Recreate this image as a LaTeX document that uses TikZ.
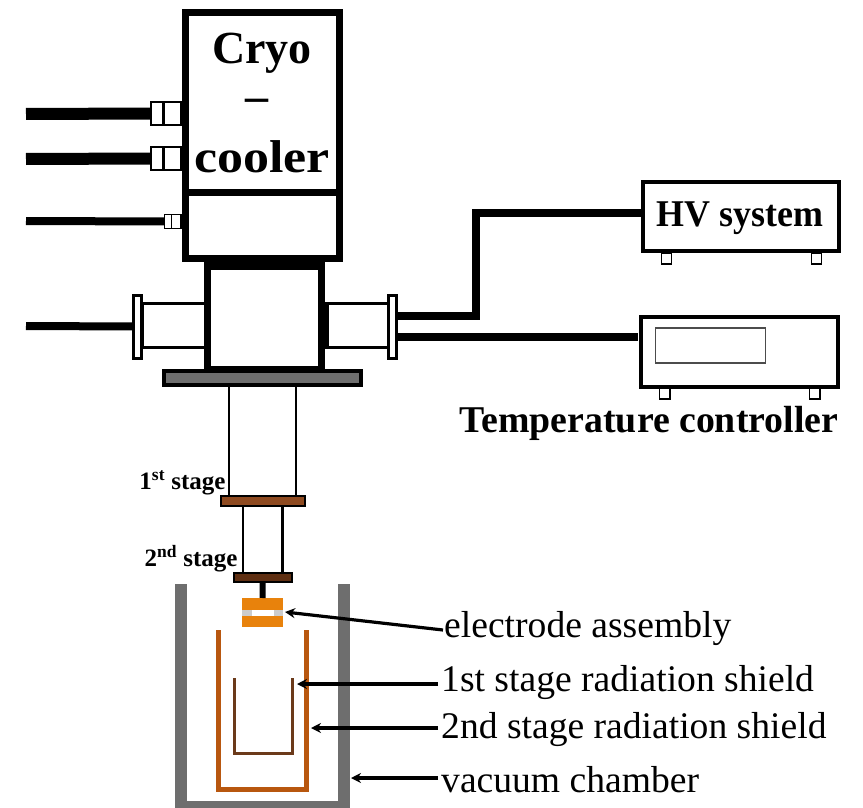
\documentclass[tikz,border=0pt]{standalone}
\usepackage{fontspec}
\setmainfont{Liberation Serif}
\usetikzlibrary{arrows.meta,calc}
\definecolor{steelgray}{HTML}{6E6E6E}
\definecolor{platedark}{HTML}{5F2F12}
\definecolor{platemid}{HTML}{8E4A20}
\definecolor{shieldtwo}{HTML}{B8570F}
\definecolor{shieldone}{HTML}{6B3A1A}
\definecolor{elec}{HTML}{E8820C}
\newcommand{\pxbox}[6]{%
  \pgfmathsetmacro\pxW{#4-#2}\pgfmathsetmacro\pxH{#5-#3}%
  \pgfmathsetmacro\pxX{(#4+#2)/2}\pgfmathsetmacro\pxY{(#5+#3)/2}%
  \node[pxnode,minimum width=\pxW pt,minimum height=\pxH pt,#6] (#1) at (\pxX,\pxY) {};}
\tikzset{
  pxnode/.style={rectangle,inner sep=0pt,outer sep=0pt,draw=black,fill=white},
  cable/.style={draw=black,line cap=butt,line join=miter},
  callout/.style={draw=black,line width=3.2pt,-{Stealth[length=10pt,width=10pt]}},
  biglabel/.style={inner sep=0pt,font=\bfseries\fontsize{46}{46}\selectfont},
  midlabel/.style={inner sep=0pt,font=\bfseries\fontsize{37.8}{37.8}\selectfont},
  stagelabel/.style={inner sep=0pt,font=\bfseries\fontsize{25}{25}\selectfont},
  calllabel/.style={inner sep=0pt,anchor=west,font=\fontsize{37.6}{37.6}\selectfont},
}
\begin{document}
\begin{tikzpicture}[x=1pt,y=-1pt]
\useasboundingbox (0,0) rectangle (863,808);
% free ends
\coordinate (endA) at (26,114);
\coordinate (endB) at (26,159);
\coordinate (endC) at (26,221);
\coordinate (endD) at (26,326);
\coordinate (hvBend) at (476,316);
% vacuum chamber
\begin{scope}
\clip (0,0) rectangle (863,808);
\draw[steelgray,line width=12pt,line join=miter] (181,584) -- (181,807) -- (344,807) -- (344,584);
\end{scope}
% cryocooler
\pxbox{cryo}{185.5}{12.5}{339.5}{258.5}{line width=7pt}
\coordinate (divL) at (cryo.west |- 0,192);
\coordinate (divR) at (cryo.east |- 0,192);
\draw[line width=7pt] (divL) -- (divR);
% lower housing
\draw[line width=3pt,fill=white] (142,303) rectangle (206,347);
\draw[line width=3pt,fill=white] (324,303) rectangle (388,347);
\pxbox{housing}{207.5}{265}{321.5}{369}{line width=7pt}
\draw[line width=6pt] (housing.north west) ++(0,1.5) -- ($(housing.north east)+(0,1.5)$);
\draw[line width=5pt] (326.5,303) -- (326.5,347);
% flanges
\pxbox{flangeL}{133.5}{295}{141.5}{358}{line width=3pt}
\pxbox{flangeR}{388.5}{295}{396.5}{358}{line width=3pt}
% gas connectors
\pxbox{connA}{151}{102}{181}{125}{line width=2.5pt}
\pxbox{connB}{151}{147}{181}{170}{line width=2.5pt}
\pxbox{connC}{164.5}{214.5}{181}{228.5}{line width=1.5pt}
\draw[line width=3pt] (163,102) -- (163,125);
\draw[line width=3pt] (163,147) -- (163,170);
\draw[line width=1.5pt] (171.5,214.5) -- (171.5,228.5);
\draw[cable,line width=12pt] (endA) -- (connA.west);
\draw[cable,line width=12pt] (endB) -- (connB.west);
\draw[cable,line width=8pt] (endC) -- (connC.west);
\draw[cable,line width=8pt] (endD) -- (flangeL.west);
% plate
\pxbox{plate}{164}{371}{361}{385}{line width=4pt,fill=steelgray}
% cold head
\coordinate (tubeA) at (229,386);
\coordinate (tubeB) at (296,386);
\pxbox{stageOne}{221}{496}{304.5}{505.5}{line width=2pt,fill=platemid}
\pxbox{stageTwo}{234}{572.5}{291.5}{581.5}{line width=2pt,fill=platedark}
\draw[line width=2pt] (tubeA) -- (tubeA |- stageOne.north);
\draw[line width=2pt] (tubeB) -- (tubeB |- stageOne.north);
\draw[line width=2.5pt] (243,505.5) -- (243,572.5);
\draw[line width=2.5pt] (282.5,505.5) -- (282.5,572.5);
% electrode assembly
\pxbox{electrode}{242}{598}{283}{627}{draw=none,fill=elec}
\fill[black!20] (242,610) rectangle (283,616);
\fill[white] (252,610) rectangle (274,616);
\draw[line width=6pt] (stageTwo.south) -- (electrode.north);
% shields
\draw[shieldtwo,line width=5pt,line join=miter] (218.5,630) -- (218.5,789) -- (306.5,789) -- (306.5,630);
\draw[shieldone,line width=3pt,line join=miter] (234.5,678) -- (234.5,753) -- (292.5,753) -- (292.5,678);
\coordinate (shieldOneTip) at (297,684);
\coordinate (shieldTwoTip) at (311,728);
\coordinate (chamberTip) at (351,778);
% instruments
\pxbox{hv}{643}{182}{838.5}{251}{line width=4pt}
\node[midlabel,xscale=0.95] (hvText) at (740,218) {HV system};
\pxbox{hvFootA}{661.5}{253}{671.5}{264}{line width=1.5pt}
\pxbox{hvFootB}{811.5}{253}{821.5}{264}{line width=1.5pt}
\pxbox{tc}{641}{317}{838}{386.5}{line width=4pt}
\pxbox{tcDisplay}{655.5}{328}{765.5}{363}{line width=1.8pt,draw=black!70}
\pxbox{tcFootA}{659.5}{388}{670}{399}{line width=1.5pt}
\pxbox{tcFootB}{809.5}{388}{820}{399}{line width=1.5pt}
\draw[cable,line width=8pt] ($(flangeR.east)+(0,-10.5)$) -- (hvBend) -- (hvBend |- 0,213) -- (hv.west |- 0,213);
\draw[cable,line width=8pt] ($(flangeR.east)+(0,10.5)$) -- ($(flangeR.east)+(241,10.5)$);
% labels
\node[biglabel] (lCryo) at (262,53) {Cryo};
\node[biglabel] (lDash) at (256.5,105) {–};
\node[biglabel,xscale=1.13] (lCooler) at (262,157) {cooler};
\node[midlabel] (lTemp) at (649,423) {Temperature controller};
\node[stagelabel] (lFirst) at (182.5,483) {1\textsuperscript{st} stage};
\node[stagelabel] (lSecond) at (191,559) {2\textsuperscript{nd} stage};
\node[calllabel] (lElec) at (444,629) {electrode assembly};
\node[calllabel] (lOne) at (441,683) {1st stage radiation shield};
\node[calllabel] (lTwo) at (441,730) {2nd stage radiation shield};
\node[calllabel] (lVac) at (441,780) {vacuum chamber};
% callouts
\draw[callout] ($(lElec.west)+(-1,1)$) -- ($(electrode.east)+(2,-0.5)$);
\draw[callout] ($(lOne.west |- shieldOneTip)+(-3,0)$) -- (shieldOneTip);
\draw[callout] ($(lTwo.west |- shieldTwoTip)+(-3,0)$) -- (shieldTwoTip);
\draw[callout] ($(lVac.west |- chamberTip)+(-3,0)$) -- (chamberTip);
\end{tikzpicture}
\end{document}
